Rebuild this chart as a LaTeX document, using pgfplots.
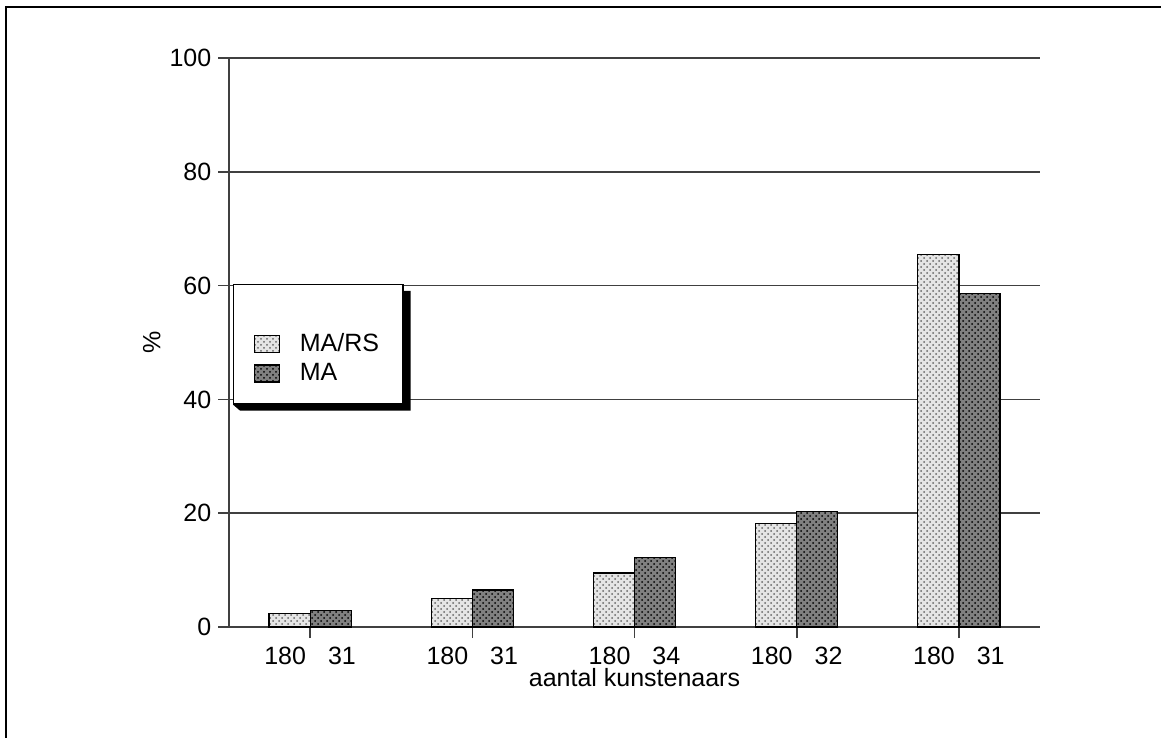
\documentclass[border=0pt]{standalone}
\usepackage{fontspec}
\setmainfont{Liberation Sans}
\usepackage{pgfplots}
\pgfplotsset{compat=1.18}
\usetikzlibrary{patterns}

\newcommand{\chartfont}{\fontsize{12.5}{15}\selectfont}

\begin{document}
\chartfont
\begin{tikzpicture}[x=1pt,y=1pt]
% page = 1161x738 px at 0.5pt/px, axis corner at px (229,627)
\useasboundingbox (-114.5,-55.5) rectangle (466,313.5);
\draw[line width=1.4pt] (-111.5,-55.5) -- (-111.5,310) -- (466,310);
\begin{axis}[
  at={(0pt,0pt)}, anchor=south west,
  scale only axis, width=405.5pt, height=284.5pt,
  /pgf/number format/assume math mode=true,
  tick label style={font=\chartfont},
  label style={font=\chartfont},
  yticklabel style={xshift=1pt},
  xmin=-0.5, xmax=4.5, ymin=0, ymax=100,
  axis x line*=bottom, axis y line*=left,
  axis line style={black!75, line width=0.8pt},
  ytick={0,20,...,100},
  xtick={0,...,4},
  xticklabels={180\hspace{11pt}31, 180\hspace{11pt}31, 180\hspace{11pt}34, 180\hspace{11pt}32, 180\hspace{11pt}31},
  tick align=outside, major tick length=5.5pt,
  tick style={black!75, line width=0.8pt},
  ymajorgrids, grid style={black!75, line width=0.8pt},
  ylabel={\%}, xlabel={aantal kunstenaars},
  xlabel style={yshift=6.5pt},
  ylabel style={yshift=-4pt},
  ybar, bar width=0.2535,
  legend image code/.code={\draw[#1] (0pt,-4.25pt) rectangle (12.5pt,4.25pt);},
  legend cell align=left,
  legend style={at={(axis cs:-0.475,60.3)}, anchor=north west, name=leg,
    font=\chartfont,
    draw=black, line width=0.6pt, fill=white,
    inner xsep=10pt, inner ysep=8pt,
    row sep=0pt,
    /tikz/every odd column/.append style={column sep=8pt}},
]
\addlegendimage{empty legend}
\addlegendentry{\rule{0pt}{8.5pt}}
\addplot[draw=black, line width=0.6pt, bar shift=-0.12675, fill=black!10,
  postaction={pattern=crosshatch dots, pattern color=black!60}]
  coordinates {(0,2.4) (1,5.0) (2,9.5) (3,18.2) (4,65.5)};
\addlegendentry{MA/RS}
\addplot[draw=black, line width=0.6pt, bar shift=0.12675, fill=black!50,
  postaction={pattern=crosshatch dots, pattern color=black}]
  coordinates {(0,2.9) (1,6.5) (2,12.2) (3,20.3) (4,58.6)};
\addlegendentry{MA}
\end{axis}
% shadow of the legend box
\fill[black] ([yshift=-3.5pt]leg.north east) -- ([xshift=3.5pt,yshift=-3.5pt]leg.north east)
  -- ([xshift=3.5pt,yshift=-3pt]leg.south east) -- ([xshift=3.5pt,yshift=-3pt]leg.south west)
  -- (leg.south west) -- (leg.south east) -- cycle;
\end{tikzpicture}
\end{document}
